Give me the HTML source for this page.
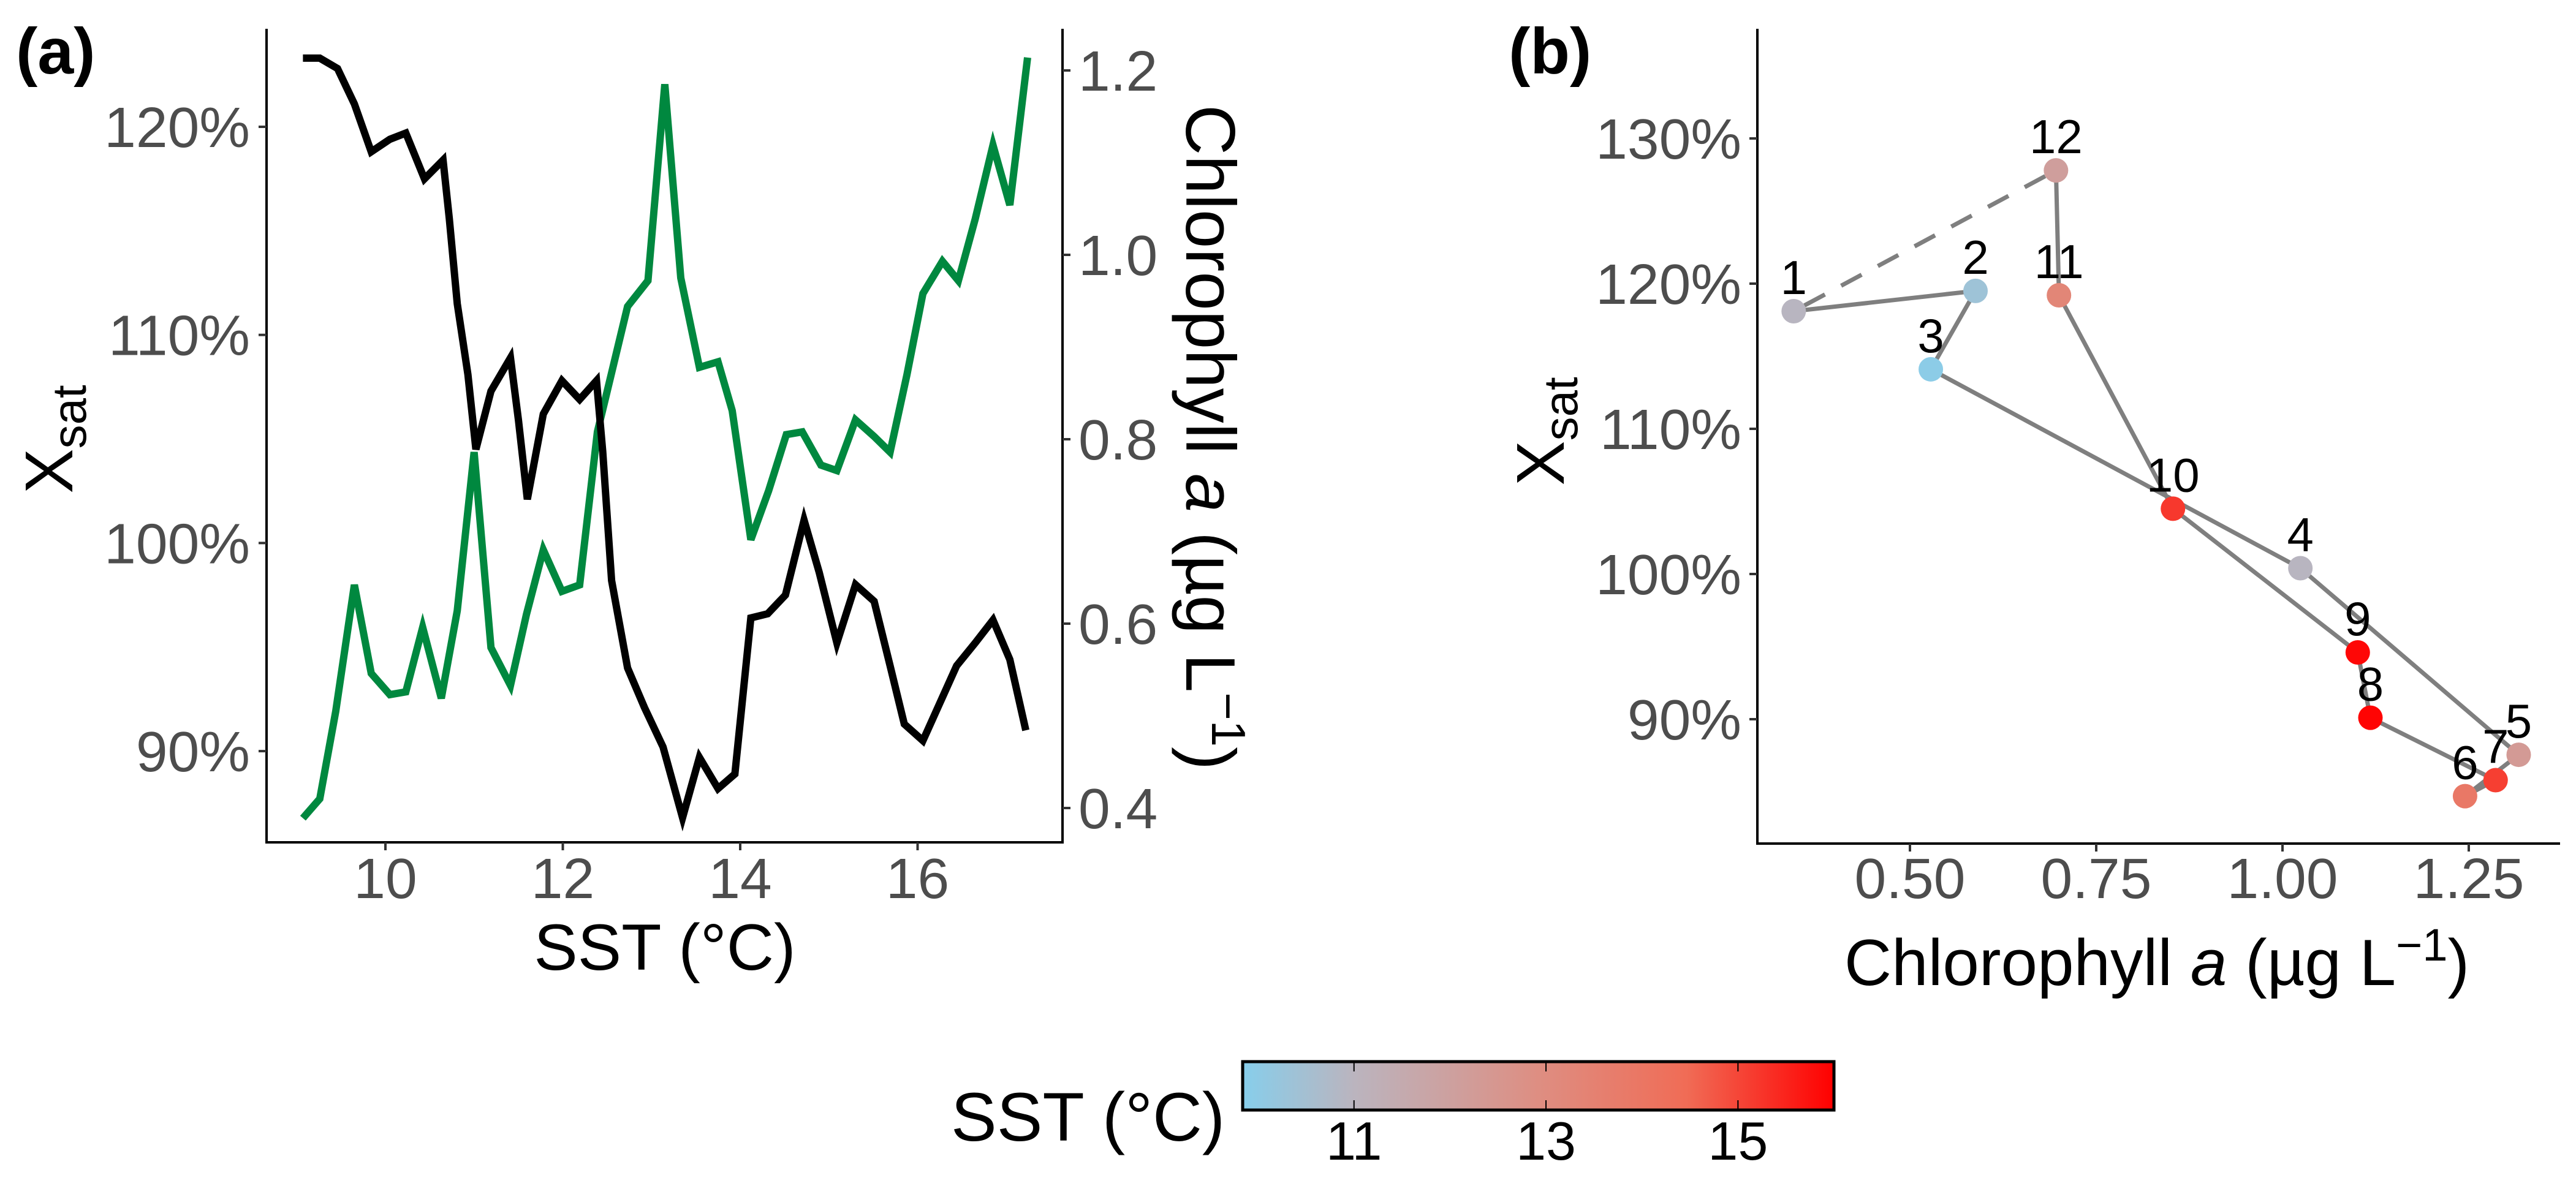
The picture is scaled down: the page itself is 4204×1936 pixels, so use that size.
<!DOCTYPE html>
<html><head><meta charset="utf-8">
<style>
html,body{margin:0;padding:0;background:#fff;}
svg{display:block;font-family:"Liberation Sans",Arial,sans-serif;}
</style></head>
<body>
<svg id="fig" width="4204" height="1936" viewBox="0 0 4204 1936" xmlns="http://www.w3.org/2000/svg">
<rect width="4204" height="1936" fill="#fff"/>
<g id="pa"></g>
<g id="pb"></g>
<g id="leg"></g>
</svg>
<script>
// Panel (a) data
const sstA = [9.07,9.26,9.46,9.65,9.84,10.05,10.23,10.44,10.65,10.72,10.81,10.93,11.02,11.19,11.41,11.5,11.6,11.78,11.99,12.19,12.38,12.45,12.55,12.73,12.92,13.13,13.35,13.54,13.75,13.94,14.12,14.31,14.51,14.72,14.89,15.09,15.3,15.51,15.69,15.85,16.06,16.25,16.44,16.65,16.85,17.04,17.22];
const xsatA = [123.3,123.3,122.8,121.1,118.8,119.4,119.7,117.5,118.4,115.6,111.5,108.1,104.5,107.3,108.9,105.9,102.1,106.2,107.8,106.9,107.8,104.4,98.2,94.0,92.1,90.2,86.8,89.7,88.2,88.9,96.4,96.6,97.5,101.1,98.6,95.2,98.0,97.2,94.1,91.3,90.5,92.3,94.1,95.2,96.3,94.4,91.0];
const sstChl = [9.07,9.26,9.44,9.65,9.84,10.05,10.23,10.42,10.63,10.81,11.0,11.19,11.41,11.59,11.78,11.99,12.19,12.39,12.57,12.73,12.96,13.15,13.33,13.54,13.75,13.91,14.12,14.32,14.52,14.7,14.91,15.09,15.3,15.51,15.69,15.88,16.06,16.28,16.46,16.65,16.85,17.04,17.24];
const chlA = [0.389,0.41,0.505,0.642,0.546,0.523,0.526,0.596,0.519,0.614,0.786,0.574,0.533,0.61,0.68,0.635,0.642,0.808,0.88,0.944,0.972,1.185,0.975,0.878,0.884,0.831,0.691,0.744,0.805,0.808,0.772,0.766,0.821,0.803,0.786,0.87,0.958,0.993,0.972,1.039,1.119,1.054,1.214];
const xTicksA = [10,12,14,16];
const yTicksA = [90,100,110,120];
const y2TicksA = [0.4,0.6,0.8,1.0,1.2];
// Panel (b) data
const months = ["1","2","3","4","5","6","7","8","9","10","11","12"];
const chlB = [0.344,0.588,0.528,1.024,1.317,1.245,1.286,1.118,1.101,0.853,0.700,0.696];
const xsatB = [118.1,119.5,114.1,100.4,87.55,84.7,85.8,90.1,94.6,104.5,119.2,127.8];
const sstB = [10.95,10.35,9.95,10.95,12.3,13.9,15.1,15.95,15.9,15.2,13.3,12.1];
const xTicksB = [0.50,0.75,1.00,1.25];
const yTicksB = [90,100,110,120,130];
const legTicks = [11,13,15];
const sstRange = [9.84,16.0];

const NS="http://www.w3.org/2000/svg";
function mk(parent,tag,attrs,text){const e=document.createElementNS(NS,tag);for(const k in attrs)e.setAttribute(k,attrs[k]);if(text!==undefined)e.textContent=text;parent.appendChild(e);return e;}

const cstops=[[0,[135,206,235]],[0.19,[187,180,190]],[0.5,[222,142,130]],[0.75,[240,108,86]],[1,[255,0,0]]];
function col(s){const t=Math.max(0,Math.min(1,(s-sstRange[0])/(sstRange[1]-sstRange[0])));for(let i=1;i<cstops.length;i++){if(t<=cstops[i][0]){const a=cstops[i-1],b=cstops[i];const f=(t-a[0])/(b[0]-a[0]);const c=a[1].map((v,j)=>Math.round(v+(b[1][j]-v)*f));return `rgb(${c[0]},${c[1]},${c[2]})`;}}return "rgb(255,0,0)";}

// ---- Panel A
const pa=document.getElementById('pa');
const ax=s=>629+(s-10)*144.75;
const ay=v=>207+(120-v)*33.97;
const ay2=c=>115+(1.2-c)*1505;
const tlab={fill:"#4d4d4d","font-size":93};
let l=mk(pa,'line',{x1:435,y1:47,x2:435,y2:1377,stroke:"#000","stroke-width":4});

l=mk(pa,'line',{x1:433,y1:1375,x2:1736,y2:1375,stroke:"#000","stroke-width":4});

l=mk(pa,'line',{x1:1734,y1:47,x2:1734,y2:1377,stroke:"#000","stroke-width":4});

xTicksA.forEach(t=>{const x=ax(t);
 mk(pa,'line',{x1:x,y1:1375,x2:x,y2:1388,stroke:"#333","stroke-width":4});
 const e=mk(pa,'text',Object.assign({x:x,y:1466,"text-anchor":"middle"},tlab),String(t));
 });
yTicksA.forEach(t=>{const y=ay(t);
 mk(pa,'line',{x1:422,y1:y,x2:435,y2:y,stroke:"#333","stroke-width":4});
 const e=mk(pa,'text',Object.assign({x:408,y:y+33,"text-anchor":"end"},tlab),t+"%");
 });
y2TicksA.forEach(t=>{const y=ay2(t);
 mk(pa,'line',{x1:1734,y1:y,x2:1747,y2:y,stroke:"#333","stroke-width":4});
 const e=mk(pa,'text',Object.assign({x:1760,y:y+33,"text-anchor":"start"},tlab),t.toFixed(1));
 });
let pts=sstChl.map((s,i)=>ax(s)+","+ay2(chlA[i])).join(" ");
l=mk(pa,'polyline',{points:pts,fill:"none",stroke:"#00883f","stroke-width":12,"stroke-linejoin":"miter"});

pts=sstA.map((s,i)=>ax(s)+","+ay(xsatA[i])).join(" ");
l=mk(pa,'polyline',{points:pts,fill:"none",stroke:"#000","stroke-width":12,"stroke-linejoin":"miter"});

</script>
<script>
const fig=document.getElementById('fig');
let t=mk(fig,'text',{x:26,y:120,"font-size":106,"font-weight":"bold"},"(a)");

t=mk(fig,'text',{x:1085,y:1583,"font-size":107,"text-anchor":"middle"},"SST (°C)");

t=mk(fig,'text',{transform:"translate(118,717) rotate(-90)","font-size":110,"text-anchor":"middle"});

mk(t,'tspan',{},"X");mk(t,'tspan',{"font-size":78,dy:22},"sat");
t=mk(fig,'text',{transform:"translate(1936,714) rotate(90)","font-size":114,"text-anchor":"middle"});

mk(t,'tspan',{},"Chlorophyll ");mk(t,'tspan',{"font-style":"italic"},"a");mk(t,'tspan',{}," (µg L");mk(t,'tspan',{"font-size":78,dy:-42},"−1");mk(t,'tspan',{dy:42},")");

// ---- Panel B
const pb=document.getElementById('pb');
const bx=c=>3117+(c-0.5)*1216;
const by=v=>226+(130-v)*23.7;
let b=mk(pb,'line',{x1:2868,y1:47,x2:2868,y2:1379,stroke:"#000","stroke-width":4});

b=mk(pb,'line',{x1:2866,y1:1377,x2:4178,y2:1377,stroke:"#000","stroke-width":4});

xTicksB.forEach(v=>{const x=bx(v);
 mk(pb,'line',{x1:x,y1:1377,x2:x,y2:1390,stroke:"#333","stroke-width":4});
 const e=mk(pb,'text',{x:x,y:1466,"text-anchor":"middle",fill:"#4d4d4d","font-size":93},v.toFixed(2));
 });
yTicksB.forEach(v=>{const y=by(v);
 mk(pb,'line',{x1:2855,y1:y,x2:2868,y2:y,stroke:"#333","stroke-width":4});
 const e=mk(pb,'text',{x:2842,y:y+33,"text-anchor":"end",fill:"#4d4d4d","font-size":93},v+"%");
 });
const n=chlB.length;
b=mk(pb,'polyline',{points:chlB.map((c,i)=>bx(c)+","+by(xsatB[i])).join(" "),fill:"none",stroke:"#7f7f7f","stroke-width":7});

b=mk(pb,'line',{x1:bx(chlB[n-1]),y1:by(xsatB[n-1]),x2:bx(chlB[0]),y2:by(xsatB[0]),stroke:"#7f7f7f","stroke-width":7,"stroke-dasharray":"38 30","stroke-dashoffset":"-20"});

chlB.forEach((c,i)=>{
 const p=mk(pb,'circle',{cx:bx(c),cy:by(xsatB[i]),r:20,fill:col(sstB[i])});
 
 const e=mk(pb,'text',{x:bx(c),y:by(xsatB[i])-28,"text-anchor":"middle","font-size":78},months[i]);
 
});
t=mk(fig,'text',{x:2462,y:120,"font-size":106,"font-weight":"bold"},"(b)");

t=mk(fig,'text',{x:3520,y:1608,"font-size":107,"text-anchor":"middle"});

mk(t,'tspan',{},"Chlorophyll ");mk(t,'tspan',{"font-style":"italic"},"a");mk(t,'tspan',{}," (µg L");mk(t,'tspan',{"font-size":74,dy:-40},"−1");mk(t,'tspan',{dy:40},")");
t=mk(fig,'text',{transform:"translate(2552,704) rotate(-90)","font-size":110,"text-anchor":"middle"});

mk(t,'tspan',{},"X");mk(t,'tspan',{"font-size":78,dy:22},"sat");

// ---- Legend
const leg=document.getElementById('leg');
const defs=mk(leg,'defs',{});
const g=mk(defs,'linearGradient',{id:"cg",x1:0,x2:1,y1:0,y2:0});
cstops.forEach(s=>mk(g,'stop',{offset:s[0],"stop-color":`rgb(${s[1].join(',')})`}));
const lx=s=>2028+(s-sstRange[0])/(sstRange[1]-sstRange[0])*965;
let r=mk(leg,'rect',{x:2028,y:1733,width:965,height:79,fill:"url(#cg)",stroke:"#000","stroke-width":5});

legTicks.forEach(v=>{const x=lx(v);
 mk(leg,'line',{x1:x,y1:1735,x2:x,y2:1749,stroke:"#000","stroke-width":2});
 mk(leg,'line',{x1:x,y1:1796,x2:x,y2:1810,stroke:"#000","stroke-width":2});
 const e=mk(leg,'text',{x:x,y:1893,"text-anchor":"middle","font-size":88},String(v));
 });
t=mk(leg,'text',{x:1552,y:1862,"font-size":112},"SST (°C)");

</script>
</body></html>
